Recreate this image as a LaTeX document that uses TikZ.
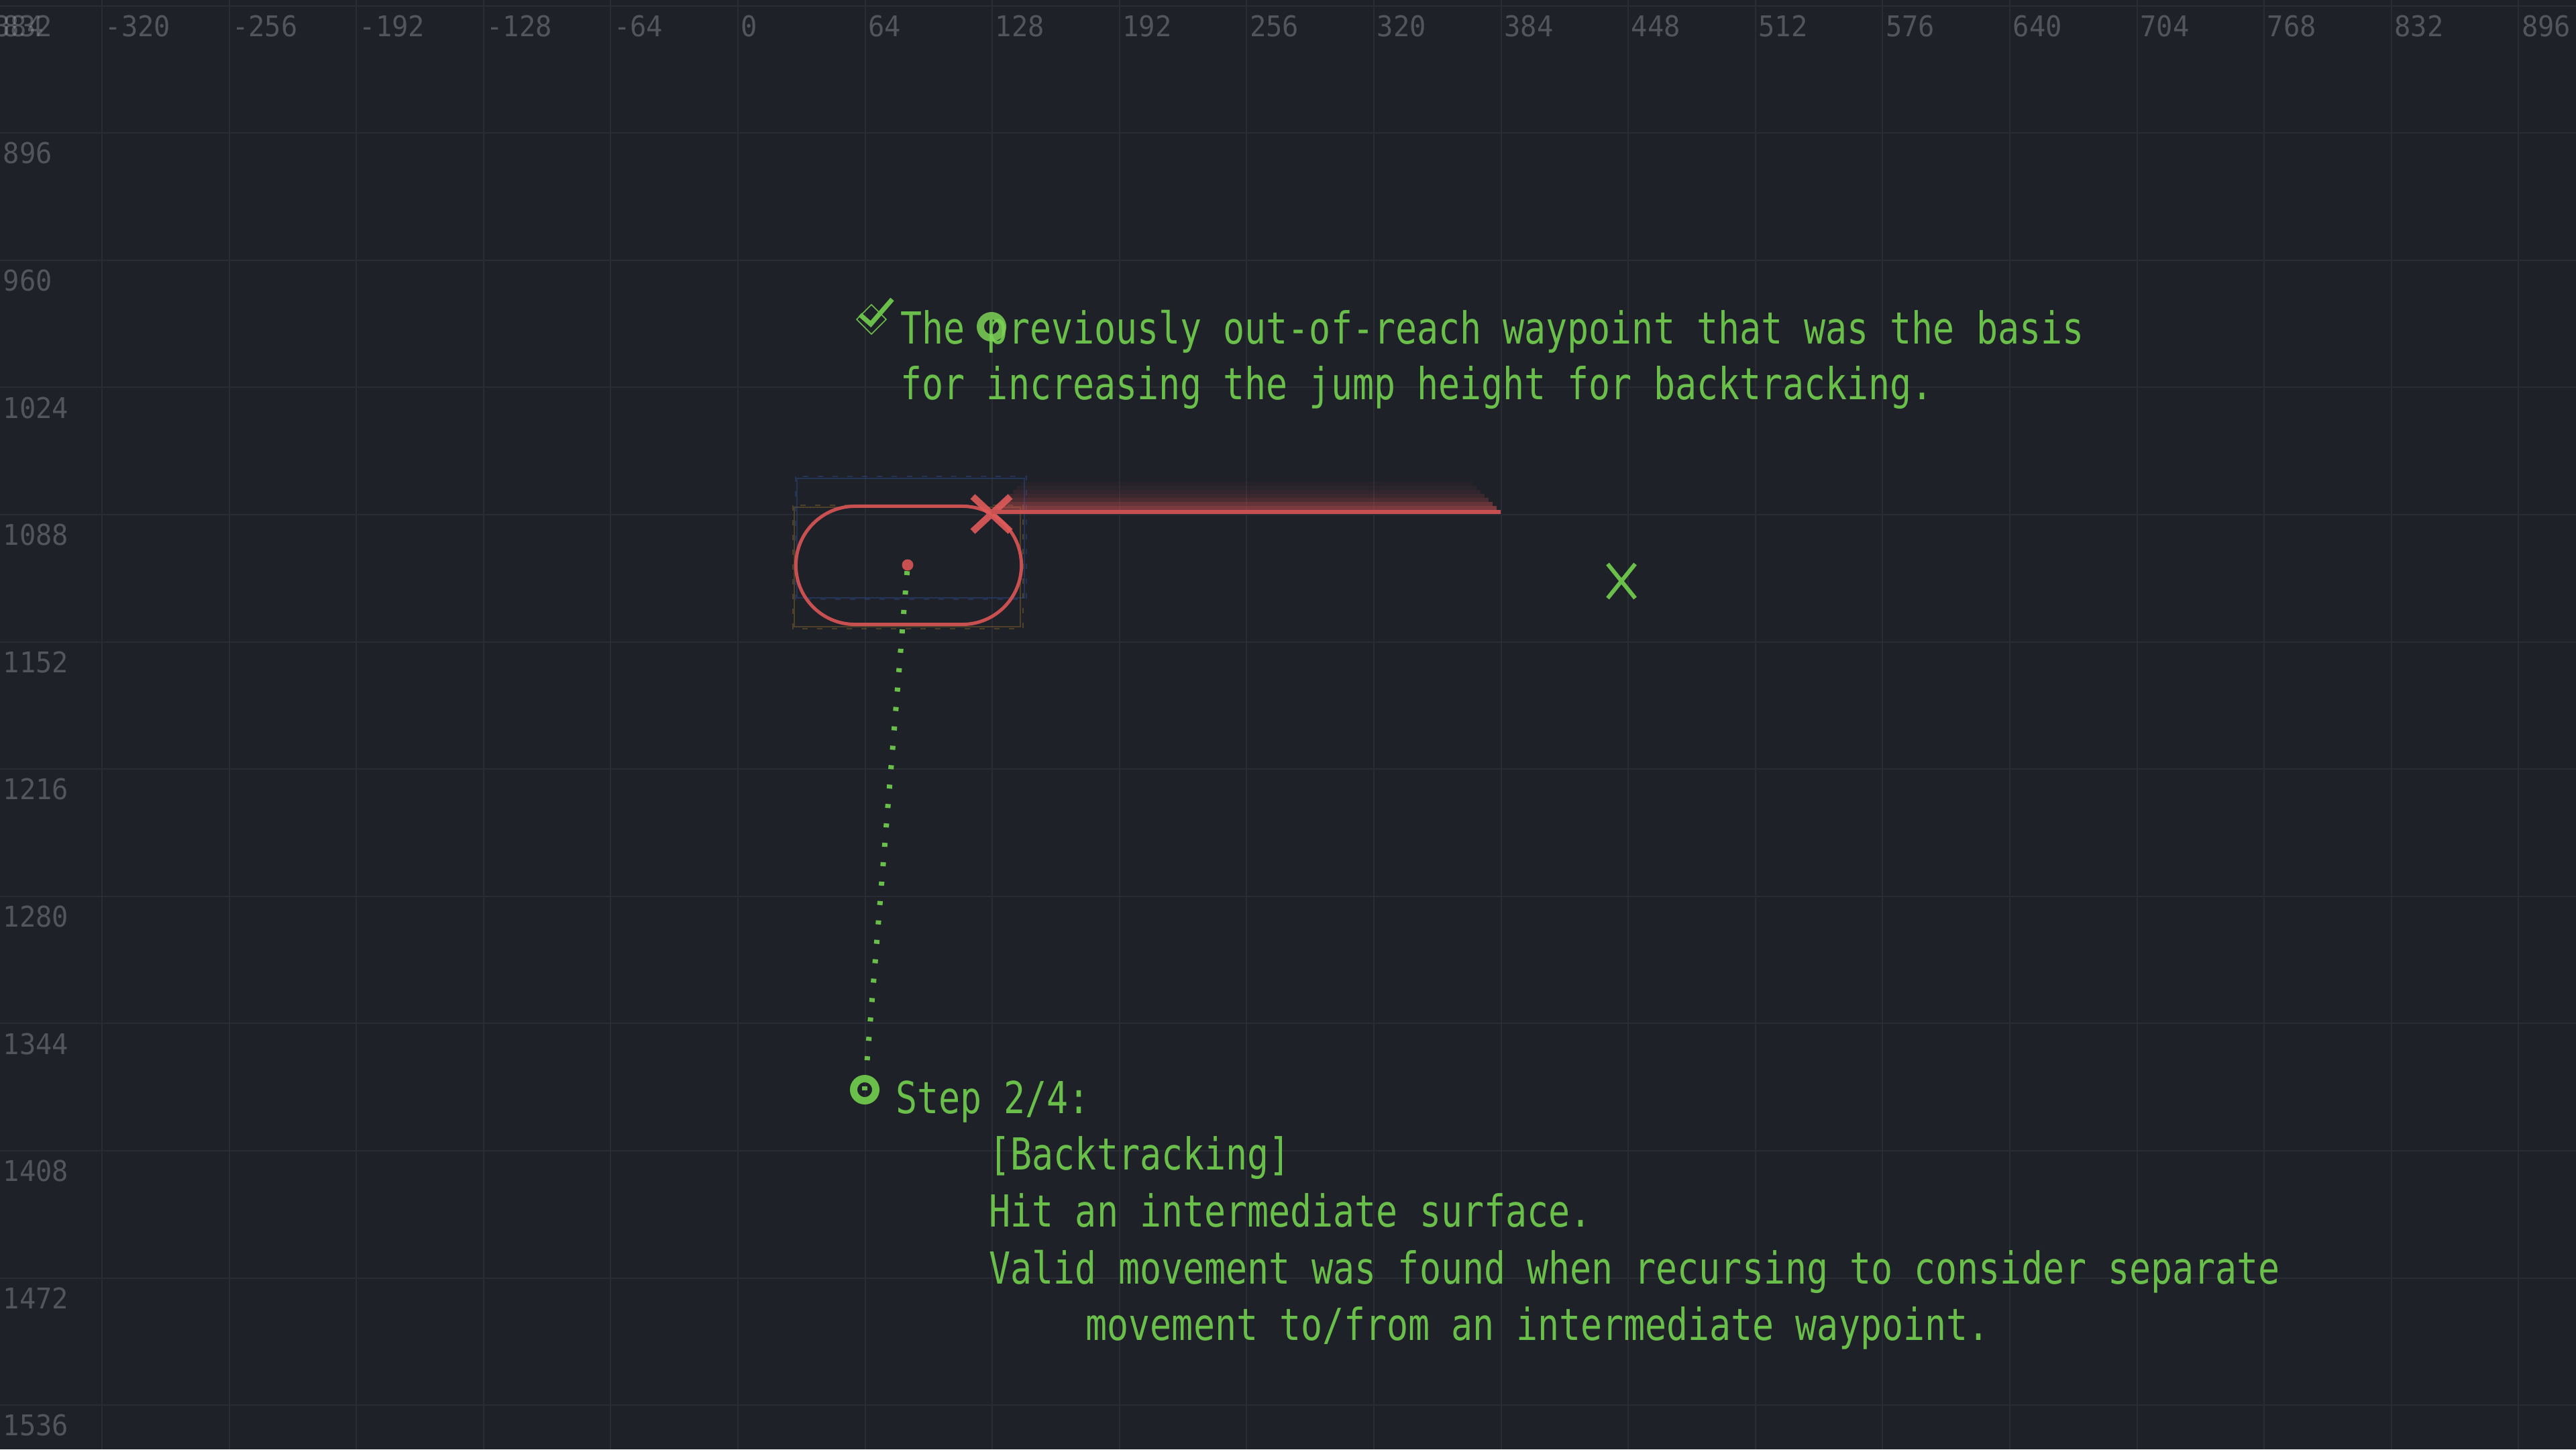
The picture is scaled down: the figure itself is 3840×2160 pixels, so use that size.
\documentclass[tikz,border=0pt]{standalone}
\usepackage{fontspec}
\usetikzlibrary{shapes.misc}
\newfontfamily\pixfont[FakeStretch=0.81]{DejaVu Sans Mono}
\newfontfamily\rulerfont[FakeStretch=0.95]{DejaVu Sans Mono}
\definecolor{bg}{HTML}{1F2129}
\definecolor{gridline}{HTML}{292C34}
\definecolor{rulertext}{HTML}{A0A4AC}
\definecolor{okgreen}{HTML}{6ABE4A}
\definecolor{ringgreen}{HTML}{7DD155}
\definecolor{hitred}{HTML}{C85050}
\definecolor{crossred}{HTML}{E05A5A}
\definecolor{boxorange}{HTML}{8A6A2A}
\definecolor{boxblue}{HTML}{2E4A8A}
\tikzset{
    x=0.01cm, y=-0.01cm % one unit per pixel
}
\tikzstyle{ruler}=[
    text = rulertext,
    text opacity = 0.4,
    font = \rulerfont\fontsize{12.1pt}{14pt}\selectfont,
    anchor = north west,
    inner sep = 0cm
]
\tikzstyle{note}=[
    text = okgreen,
    font = \pixfont\fontsize{18.7pt}{24pt}\selectfont,
    anchor = base west,
    inner sep = 0cm
]
\tikzstyle{ring}=[
    circle,
    draw = okgreen,
    line width = 0.11cm,
    minimum size = 0.33cm,
    inner sep = 0cm
]

\begin{document}
\begin{tikzpicture}
    \tikzstyle{cross}=[cross out, draw, inner sep=0cm]
    \tikzstyle{debugbox}=[line width=0.015cm, opacity=0.45]

    \fill[bg] (0,0) rectangle (3840,2160);
    \useasboundingbox (0,0) rectangle (3840,2160);

    % grid and rulers
    \foreach \i in {0,...,19}
        \draw[gridline, line width=0.02cm] (152+189.6*\i,0) -- (152+189.6*\i,2160);
    \foreach \j in {0,...,11}
        \draw[gridline, line width=0.02cm] (0,8.5+189.6*\j) -- (3840,8.5+189.6*\j);
    \foreach \i in {-1,...,19} {
        \pgfmathtruncatemacro\v{-320+64*\i}
        \node[ruler] (xl\i) at (156+189.6*\i,22) {\v};
    }
    \foreach \j in {0,...,11} {
        \pgfmathtruncatemacro\v{832+64*\j}
        \node[ruler] (yl\j) at (4,22+189.6*\j) {\v};
    }

    % bounds of the body
    \draw[boxorange, debugbox] (1184,756) rectangle (1521,934);
    \draw[boxorange, debugbox, dash pattern=on 0.08cm off 0.14cm] (1182,753) rectangle (1525,937);
    \draw[boxblue, debugbox] (1188,713) rectangle (1527,891);
    \draw[boxblue, debugbox, dash pattern=on 0.08cm off 0.14cm] (1186,710) rectangle (1530,893);

    % blocked jump
    \foreach \k/\op in {1/0.55,2/0.41,3/0.26,4/0.17,5/0.11,6/0.065,7/0.04}
        \fill[hitred, opacity=\op] (1480+6*\k,760-6*\k) rectangle (2237-6*\k,766-6*\k);
    \coordinate (reach) at (2237,763);
    \node[rounded rectangle, draw=hitred, line width=0.05cm, minimum width=3.36cm,
        minimum height=1.76cm, inner sep=0cm] (body) at (1354.5,842.5) {};
    \node[circle, fill=hitred, minimum size=0.17cm, inner sep=0cm] (dot) at (1353,842) {};
    \node[cross, draw=crossred, line width=0.1cm, minimum width=0.46cm,
        minimum height=0.42cm, opacity=0.9] (hit) at (1478,766) {};
    \draw[hitred, line width=0.06cm] (hit.center |- reach) -- (reach);

    \node[cross, draw=okgreen, line width=0.06cm, minimum width=0.35cm,
        minimum height=0.45cm] (goal) at (2417,866) {};

    % path to the step marker
    \node[ring] (wpb) at (1289,1624) {};
    \fill[okgreen] (1285,1619) rectangle (1293,1625);
    \draw[okgreen, line width=0.08cm, dash pattern=on 0.06cm off 0.23cm] (dot) -- (wpb);

    % notes
    \node[note] (noteA) at (1342,512) {The previously out-of-reach waypoint that was the basis};
    \node[note] (noteB) at (1342,595) {for increasing the jump height for backtracking.};
    \draw[okgreen, line width=0.015cm] (1299,454) -- (1321,476) -- (1299,498) -- (1277,476) -- cycle;
    \draw[okgreen, line width=0.07cm] (1282,469) -- (1298,483) -- (1330,446);
    \node[ring, draw=ringgreen, opacity=0.85] (wpa) at (1478,487) {};

    \node[note] (stepA) at (1335,1659) {Step 2/4:};
    \node[note] (stepB) at (1474,1743) {[Backtracking]};
    \node[note] (stepC) at (1474,1828) {Hit an intermediate surface.};
    \node[note] (stepD) at (1474,1913) {Valid movement was found when recursing to consider separate};
    \node[note] (stepE) at (1618,1997) {movement to/from an intermediate waypoint.};
\end{tikzpicture}
\end{document}
